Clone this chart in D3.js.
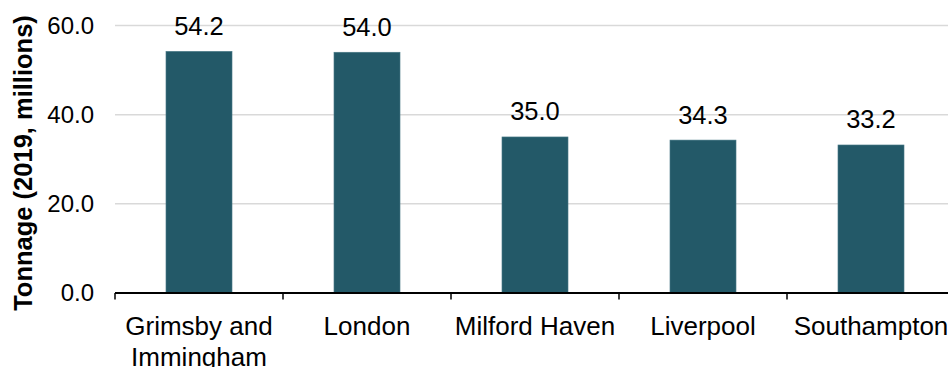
<!DOCTYPE html>
<html>
<head>
<meta charset="utf-8">
<script src="https://cdn.jsdelivr.net/npm/d3@7"></script>
<style>
  html, body { margin: 0; padding: 0; background: #ffffff; overflow: hidden; }
  svg { display: block; font-family: "Liberation Sans", Arial, sans-serif; }
</style>
</head>
<body>
<svg id="chart" width="948" height="367"></svg>
<script>
// Port tonnage, 2019 (millions)
const ports = [["Grimsby and", "Immingham"], ["London"], ["Milford Haven"], ["Liverpool"], ["Southampton"]];
const tonnage = [54.2, 54.0, 35.0, 34.3, 33.2];
const yTicks = [0, 20, 40, 60];

const svg = d3.select("#chart");
const W = 948;

const x0 = 115, step = 168;
const x = d3.scaleBand()
  .domain(d3.range(ports.length))
  .range([x0, x0 + step * ports.length])
  .paddingInner(0.607)
  .paddingOuter(0.3035);

const y = d3.scaleLinear().domain([0, 60]).range([293, 25.5]);

// Horizontal gridlines
svg.append("g")
  .selectAll("line")
  .data(yTicks.filter(d => d > 0))
  .join("line")
  .attr("x1", x0).attr("x2", W)
  .attr("y1", d => y(d)).attr("y2", d => y(d))
  .attr("stroke", "#d9d9d9")
  .attr("stroke-width", 1.5);

// Y tick labels
svg.append("g")
  .selectAll("text")
  .data(yTicks)
  .join("text")
  .attr("x", 94)
  .attr("y", d => y(d))
  .attr("dy", "0.35em")
  .attr("text-anchor", "end")
  .attr("font-size", 24)
  .attr("fill", "#000")
  .text(d => d.toFixed(1));

// Y axis title
svg.append("text")
  .attr("transform", `translate(32, 163) rotate(-90)`)
  .attr("text-anchor", "middle")
  .attr("font-size", 25.5)
  .attr("font-weight", "bold")
  .attr("fill", "#000")
  .text("Tonnage (2019, millions)");

// Bars
svg.append("g")
  .selectAll("rect")
  .data(tonnage)
  .join("rect")
  .attr("x", (d, i) => x(i))
  .attr("width", x.bandwidth())
  .attr("y", d => y(d))
  .attr("height", d => y(0) - y(d))
  .attr("fill", "#235968")
  .attr("stroke", "#4a7b88")
  .attr("stroke-width", 0.6);

// Value labels
svg.append("g")
  .selectAll("text")
  .data(tonnage)
  .join("text")
  .attr("x", (d, i) => x(i) + x.bandwidth() / 2)
  .attr("y", d => y(d) - 16.5)
  .attr("text-anchor", "middle")
  .attr("font-size", 25.5)
  .attr("fill", "#000")
  .text(d => d.toFixed(1));

// X axis line and category boundary ticks
const axis = svg.append("g");
axis.append("line")
  .attr("x1", x0).attr("x2", W)
  .attr("y1", y(0)).attr("y2", y(0))
  .attr("stroke", "#000")
  .attr("stroke-width", 1.8);
axis.selectAll("line.tick")
  .data(d3.range(ports.length + 1))
  .join("line")
  .attr("class", "tick")
  .attr("x1", i => x0 + i * step).attr("x2", i => x0 + i * step)
  .attr("y1", y(0)).attr("y2", y(0) + 6.5)
  .attr("stroke", "#000")
  .attr("stroke-width", 1.5);

// Category labels
const cat = svg.append("g")
  .selectAll("text")
  .data(ports)
  .join("text")
  .attr("x", (d, i) => x(i) + x.bandwidth() / 2)
  .attr("y", 335)
  .attr("text-anchor", "middle")
  .attr("font-size", 26)
  .attr("fill", "#000");
cat.selectAll("tspan")
  .data(d => d)
  .join("tspan")
  .attr("x", function () { return d3.select(this.parentNode).attr("x"); })
  .attr("dy", (d, j) => j === 0 ? 0 : 31)
  .text(d => d);
</script>
</body>
</html>
